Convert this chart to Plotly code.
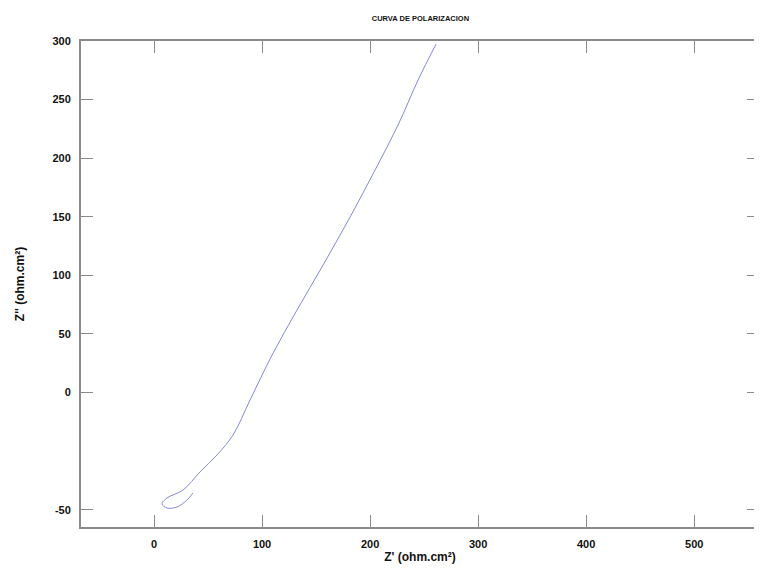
import plotly.graph_objects as go

# Curve data (Z' vs Z''), axis units as drawn
z_real = [261.1, 244.4, 225.9, 204.6, 181.5, 156.5, 132.4, 109.3, 88.9, 73.1,
          58.3, 42.6, 26.9, 12.0, 7.4, 12.0, 21.3, 30.6, 36.1]
z_imag = [297.4, 266.7, 228.3, 189.9, 149.8, 108.9, 70.5, 32.1, -6.3, -36.2,
          -53.2, -67.7, -83.1, -89.9, -95.0, -98.5, -97.6, -91.6, -85.7]

x_tick_vals = [0, 100, 200, 300, 400, 500]
x_tick_text = ["0", "100", "200", "300", "400", "500"]
y_tick_vals = [300, 250, 200, 150, 100, 50, 0, -100]
y_tick_text = ["300", "250", "200", "150", "100", "50", "0", "-50"]

font_b = "Liberation Sans"

fig = go.Figure()
fig.add_trace(go.Scatter(x=z_real, y=z_imag, mode="lines",
                         line=dict(color="#8587dc", width=1, shape="spline"),
                         showlegend=False))

axis_common = dict(showgrid=False, zeroline=False, showline=True, linecolor="#8a8a8a",
                   linewidth=2, mirror="ticks", ticks="inside", ticklen=12,
                   tickcolor="#8a8a8a", tickwidth=1, automargin=False,
                   tickfont=dict(family=font_b, size=11, color="#111111"))

fig.update_layout(
    width=754, height=561,
    margin=dict(l=73, r=3, t=33, b=42),
    paper_bgcolor="white", plot_bgcolor="white",
    title=dict(text="<b>CURVA DE POLARIZACION</b>", x=0.547, xanchor="center",
               y=0.982, yanchor="middle", automargin=False,
               font=dict(family=font_b, size=7.5, color="#111111")),
    xaxis=dict(range=[-67.6, 560], tickvals=x_tick_vals,
               ticktext=["<b>%s</b>" % t for t in x_tick_text],
               ticklabelstandoff=6,
               title=dict(text="<b>Z' (ohm.cm²)</b>", standoff=3,
                          font=dict(family=font_b, size=12, color="#111111")),
               **axis_common),
    yaxis=dict(range=[-114.7, 300], tickvals=y_tick_vals,
               ticktext=["<b>%s</b>" % t for t in y_tick_text],
               ticklabelstandoff=6,
               title=dict(text="<b>Z'' (ohm.cm²)</b>", standoff=25,
                          font=dict(family=font_b, size=12, color="#111111")),
               **axis_common),
)

fig.write_html("out.html")
